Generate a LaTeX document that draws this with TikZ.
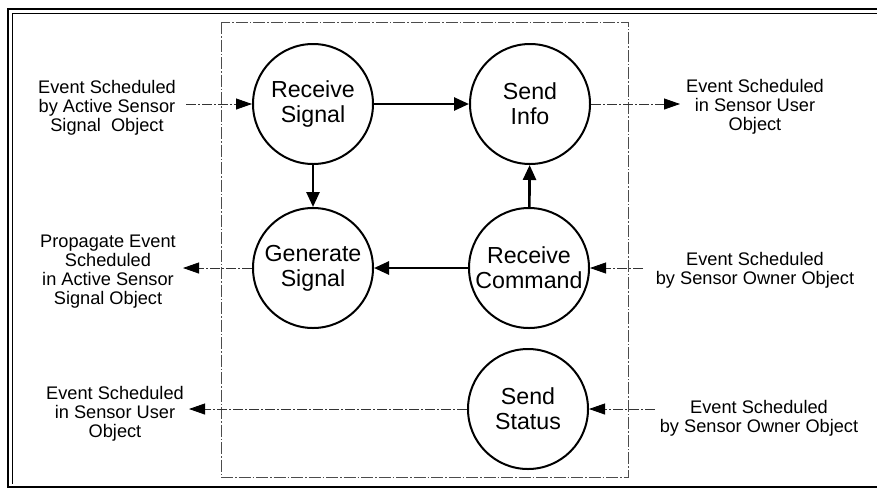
\documentclass[tikz,border=0pt]{standalone}
\usepackage{fontspec}
\setmainfont{Liberation Sans}
\usetikzlibrary{arrows.meta}
\tikzset{
  proc/.style={circle, draw, line width=2pt, minimum size=120pt, inner sep=0pt, align=center,
    font=\fontsize{23.2}{25}\selectfont},
  lbl/.style={align=center, inner sep=0pt, font=\fontsize{18.2}{19}\selectfont},
  thick arrow/.style={line width=2.6pt, -{Triangle[length=15pt,width=13pt]}},
  ext arrow/.style={line width=0.8pt, black!80, dash pattern=on 10pt off 2pt on 2pt off 2pt,
    -{Triangle[length=16pt,width=11pt,black]}},
  frame/.style={line width=1.4pt},
  inner frame/.style={line width=0.6pt, black!70, dash pattern=on 12pt off 2pt on 1.5pt off 2pt}
}
\begin{document}
\begin{tikzpicture}[x=1pt,y=-1pt]
\useasboundingbox (0,0) rectangle (877,491);
% outer frame
\draw[frame] (877,9) -- (8,9) -- (8,487) -- (877,487);
\draw[line width=0.8pt] (877,13) -- (12,13) -- (12,484);
% inner dashed frame
\draw[inner frame] (221,22) rectangle (628,477);
% processes
\node[proc] (rs) at (313,104) {Receive\\Signal};
\node[proc] (si) at (530,104) {Send\\Info};
\node[proc] (gs) at (313,268) {Generate\\Signal};
\node[proc] (rc) at (529,268) {Receive\\Command};
\node[proc] (ss) at (528,409) {Send\\Status};
% labels
\node[lbl] (t1) at (107,108) {Event Scheduled\\by Active Sensor\\Signal\ \ Object};
\node[lbl] (t2) at (755,107) {Event Scheduled\\in Sensor User\\Object};
\node[lbl] (t3) at (108,272) {Propagate Event\\Scheduled\\in Active Sensor\\Signal Object};
\node[lbl] (t4) at (755,270) {Event Scheduled\\by Sensor Owner Object};
\node[lbl] (t5) at (115,414) {Event Scheduled\\in Sensor User\\Object};
\node[lbl] (t6) at (759,418) {Event Scheduled\\by Sensor Owner Object};
% external end points
\coordinate (a1) at (186,104);
\coordinate (a2) at (680,104);
\coordinate (a3) at (183,268);
\coordinate (a4) at (643,268);
\coordinate (a5) at (189,409);
\coordinate (a6) at (655,409);
% internal thick arrows
\draw[thick arrow] (rs) -- (si);
\draw[thick arrow] (rs) -- (gs);
\draw[thick arrow] (rc) -- (si);
\draw[thick arrow] (rc) -- (gs);
% external arrows
\draw[ext arrow] (a1) -- (rs);
\draw[ext arrow] (si) -- (a2);
\draw[ext arrow] (gs) -- (a3);
\draw[ext arrow] (a4) -- (rc);
\draw[ext arrow] (ss) -- (a5);
\draw[ext arrow] (a6) -- (ss);
\end{tikzpicture}
\end{document}
